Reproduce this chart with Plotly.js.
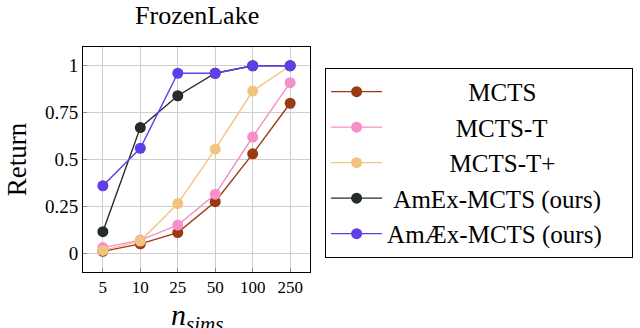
<!DOCTYPE html>
<html>
<head>
<meta charset="utf-8">
<script src="https://cdn.plot.ly/plotly-3.0.1.min.js"></script>
<style>
  html, body { margin: 0; padding: 0; background: #fff; }
  #chart { width: 640px; height: 328px; }
</style>
</head>
<body>
<div id="chart"></div>
<script>
'use strict';

// n_sims budgets (categorical axis)
const sims = ['5', '10', '25', '50', '100', '250'];

const mcts      = [0.01, 0.05, 0.11, 0.275, 0.53, 0.80];
const mctsT     = [0.03, 0.07, 0.15, 0.315, 0.62, 0.91];
const mctsTPlus = [0.015, 0.065, 0.265, 0.555, 0.865, 1.0];
const amex      = [0.115, 0.67, 0.84, 0.96, 1.0, 1.0];
const amaex     = [0.36, 0.56, 0.96, 0.96, 1.0, 1.0];

const names  = ['MCTS', 'MCTS-T', 'MCTS-T+', 'AmEx-MCTS (ours)', 'AmÆx-MCTS (ours)'];
const colors = ['#9b3a12', '#f78fc9', '#f1c57f', '#262b2b', '#603ee8'];
// leading non-breaking spaces so the legend labels sit centred like the original
const pads   = [13, 11, 10, 1, 0];

const SERIF = '"Liberation Serif", "Times New Roman", serif';
const NB = '&nbsp;';

const series = [mcts, mctsT, mctsTPlus, amex, amaex];
const traces = series.map((y, i) => ({
    x: sims, y,
    type: 'scatter', mode: 'lines+markers',
    name: NB.repeat(pads[i]) + names[i] + NB.repeat(4),
    line: { color: colors[i], width: 1.4 },
    marker: { color: colors[i], size: 11 },
}));

const layout = {
    width: 640, height: 328,
    margin: { l: 83, r: 330, t: 47, b: 56 },
    paper_bgcolor: '#fff', plot_bgcolor: '#fff',
    font: { family: SERIF, color: '#000' },
    title: { text: 'FrozenLake', font: { size: 26, family: SERIF }, x: 0.308, xanchor: 'center', y: 0.955, yanchor: 'middle' },
    xaxis: {
        type: 'category', range: [-0.53, 5.53],
        showgrid: true, gridcolor: '#cfcfcf', gridwidth: 1,
        showline: true, linecolor: '#000', linewidth: 1, mirror: true,
        ticks: 'inside', ticklen: 4, tickcolor: '#888',
        tickfont: { size: 17, family: SERIF },
        zeroline: false,
    },
    yaxis: {
        range: [-0.1, 1.1],
        tickvals: [0, 0.25, 0.5, 0.75, 1],
        ticktext: ['0', '0.25', '0.5', '0.75', '1'],
        showgrid: true, gridcolor: '#cfcfcf', gridwidth: 1,
        showline: true, linecolor: '#000', linewidth: 1, mirror: true,
        ticks: 'inside', ticklen: 4, tickcolor: '#888',
        tickfont: { size: 19, family: SERIF },
        zeroline: false,
        title: { text: 'Return', font: { size: 27, family: SERIF }, standoff: 10 },
    },
    legend: {
        xref: 'container', yref: 'container',
        x: 0.508, xanchor: 'left', y: 0.793, yanchor: 'top',
        maxheight: 300,
        bordercolor: '#000', borderwidth: 1, bgcolor: '#fff',
        font: { size: 25, family: SERIF },
        itemwidth: 51,
        tracegroupgap: 0,
    },
    annotations: [{
        text: '<i>n</i><sub><i>sims</i></sub>',
        xref: 'paper', yref: 'paper', x: 0.502, y: -0.107, xanchor: 'center', yanchor: 'top',
        showarrow: false, font: { size: 30, family: SERIF },
    }],
};

Plotly.newPlot('chart', traces, layout, { displayModeBar: false, staticPlot: true });
</script>
</body>
</html>
